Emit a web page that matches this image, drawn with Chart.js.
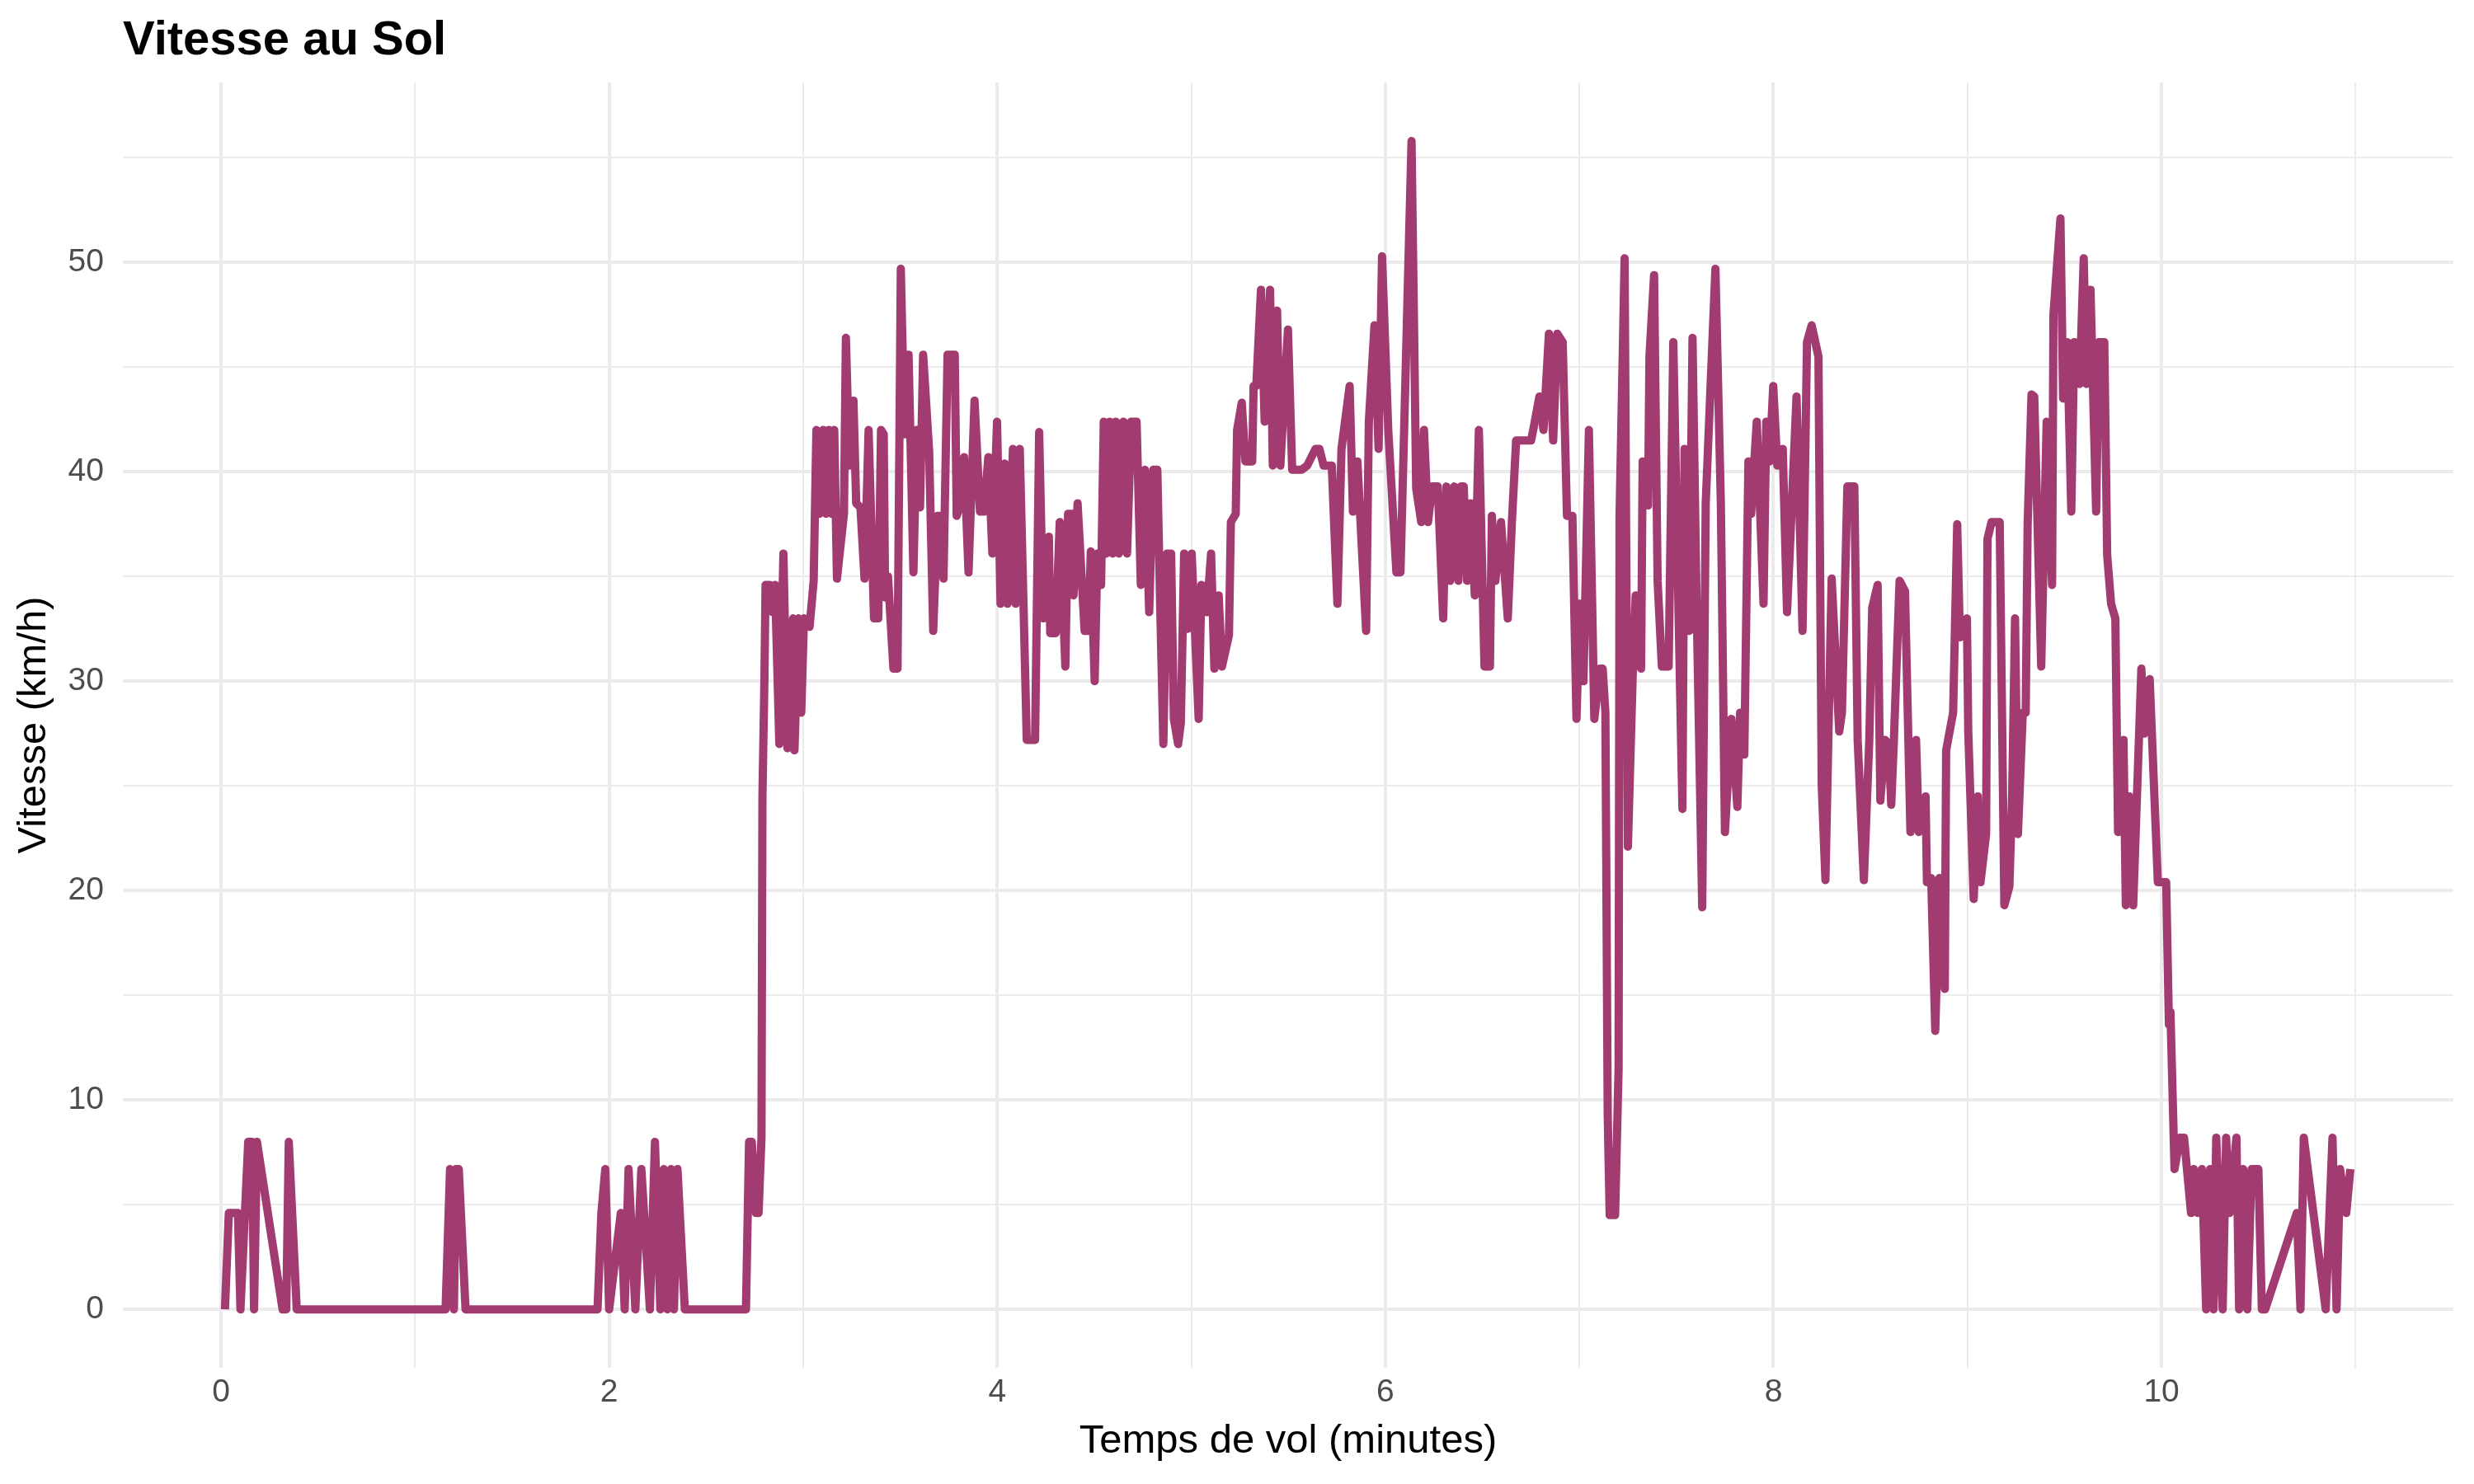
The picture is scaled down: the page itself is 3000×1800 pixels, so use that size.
<!DOCTYPE html>
<html>
<head>
<meta charset="utf-8">
<script src="https://cdn.jsdelivr.net/npm/chart.js@4.4.1/dist/chart.umd.min.js"></script>
<style>
html,body{margin:0;padding:0;background:#fff;}
canvas{display:block;}
</style>
</head>
<body>
<canvas id="c" width="3000" height="1800"></canvas>
<script>
const temps = [
0.02,0.04,0.087,0.10,0.14,0.16,0.17,0.185,0.317,0.336,0.349,0.39,
1.157,1.18,1.20,1.21,1.225,1.26,
1.94,1.96,1.98,2.00,2.06,2.08,2.10,2.135,2.166,2.21,2.236,2.264,2.282,2.30,2.32,2.334,2.352,2.39,2.705,
2.721,2.735,2.756,2.770,2.785,2.79,2.80,2.806,2.827,2.841,2.855,2.877,2.898,2.919,2.948,2.955,2.976,2.990,3.004,3.033,3.054,
3.068,3.082,3.103,3.117,3.132,3.146,3.160,3.174,3.210,3.220,3.238,3.259,3.273,3.295,3.316,3.337,3.365,3.387,
3.401,3.415,3.422,3.437,3.465,3.486,3.503,3.522,3.543,3.568,3.585,3.602,3.618,3.649,3.670,3.692,3.706,3.723,3.744,3.781,3.791,3.812,3.829,3.852,3.883,3.911,3.932,3.954,3.975,3.999,4.017,4.039,4.053,4.081,4.095,4.116,4.152,
4.195,4.216,4.237,4.266,4.273,4.301,4.322,4.351,4.365,4.386,4.393,4.414,4.450,4.471,4.482,4.502,4.516,4.535,4.549,4.562,4.580,4.595,4.611,4.627,4.650,4.669,4.690,4.718,4.740,4.761,4.783,4.804,4.825,4.839,4.856,4.875,4.896,
4.910,4.932,4.946,4.963,4.981,5.002,5.038,5.052,5.080,5.102,5.119,5.141,5.158,5.194,5.204,5.229,5.236,5.260,5.279,5.314,5.321,5.335,5.359,5.378,5.406,5.420,5.442,5.459,5.498,5.520,5.569,5.597,5.619,5.640,
5.660,5.682,5.724,5.753,5.774,5.816,5.833,5.856,5.901,5.915,5.944,5.965,5.983,6.015,6.057,6.078,6.135,6.159,6.185,6.199,6.220,6.241,6.270,6.298,6.315,6.333,6.355,6.376,
6.390,6.404,6.421,6.440,6.461,6.482,6.511,6.539,6.549,6.567,6.596,6.631,6.652,6.674,6.751,6.766,6.794,6.815,6.843,6.865,6.886,6.914,6.936,6.964,6.985,7.002,7.021,7.049,7.077,7.106,
7.120,7.134,7.146,7.156,7.184,7.202,7.207,7.233,7.250,7.276,7.290,7.318,7.326,7.354,7.361,7.385,7.403,7.425,7.460,7.484,7.500,7.531,7.542,7.566,7.583,7.602,7.633,7.651,7.701,7.729,7.750,7.783,7.814,7.828,7.850,
7.871,7.885,7.914,7.949,7.963,7.980,7.999,8.020,8.048,8.070,8.088,8.119,8.150,8.173,8.197,8.232,8.249,8.268,8.300,8.339,8.353,8.381,8.417,8.434,8.466,8.494,8.509,8.537,8.551,8.575,8.594,
8.607,8.620,8.650,8.678,8.706,8.735,8.749,8.784,8.791,8.813,8.834,8.855,8.883,8.890,8.926,8.947,8.961,8.997,9.004,9.032,9.053,9.067,9.096,9.103,9.124,9.166,9.190,9.216,9.230,9.245,9.260,9.285,9.300,9.310,9.330,
9.344,9.380,9.408,9.436,9.443,9.479,9.493,9.514,9.535,9.550,9.578,9.599,9.613,9.634,9.663,9.677,9.705,9.720,9.740,9.762,9.776,9.804,9.816,9.833,9.854,9.896,9.911,9.939,9.981,10.024,10.038,10.046,
10.067,10.095,10.116,10.152,10.166,10.187,10.208,10.230,10.251,10.268,10.282,10.315,10.333,10.350,10.386,10.400,10.421,10.442,10.464,10.499,10.517,10.534,10.697,10.716,10.733,10.846,10.881,10.902,10.920,10.952,10.973
];
const vitesse = [
0,4.6,4.6,0,8.0,8.0,0,8.0,0,0,8.0,0,
0,6.7,0,6.7,6.7,0,
0,4.6,6.7,0,4.6,0,6.7,0,6.7,0,8.0,0,6.7,0,6.7,0,6.7,0,0,
8.0,8.0,4.6,4.6,8.2,24.5,30.0,34.6,34.6,33.3,34.6,27.0,36.1,26.8,33.0,26.7,33.0,28.5,33.0,32.6,34.8,
42.0,38.0,42.0,38.0,42.0,38.0,42.0,34.9,38.0,46.4,40.3,43.4,38.5,38.3,34.9,42.0,33.0,33.0,
42.0,41.8,34.0,35.0,30.6,30.6,49.7,41.8,45.6,35.2,42.0,38.3,45.6,41.0,32.4,37.9,37.9,34.9,45.6,45.6,37.9,38.5,40.7,35.2,43.4,38.1,38.1,40.7,36.1,42.4,33.7,40.4,33.7,41.1,33.7,41.1,27.2,
27.2,41.9,33.0,36.9,32.3,32.3,37.6,30.7,38.0,38.0,34.1,38.5,32.4,32.4,36.2,30.0,36.1,34.6,42.4,36.1,42.4,36.1,42.4,36.1,42.4,36.1,42.4,42.4,34.6,40.1,33.3,40.1,40.1,33.9,27.0,36.1,36.1,
28.2,27.0,28.0,36.1,32.5,36.1,28.2,34.6,33.3,36.1,30.6,34.1,30.7,32.2,37.6,38.0,42.0,43.3,40.5,40.5,44.1,44.1,48.7,42.4,48.7,40.3,47.7,40.3,46.8,40.1,40.1,40.3,40.7,41.1,
41.1,40.3,40.3,33.7,41.1,44.1,38.1,40.5,32.4,42.4,47.0,41.1,50.3,42.0,35.2,35.2,55.8,39.2,37.6,42.0,37.6,39.3,39.3,33.0,39.3,34.8,39.3,34.8,
39.3,39.3,34.8,38.5,34.1,42.0,30.7,30.7,37.9,34.8,37.6,33.0,37.6,41.5,41.5,42.2,43.6,42.0,46.6,41.5,46.6,46.2,37.9,37.9,28.2,33.7,30.0,42.0,28.2,30.6,
30.6,28.5,9.3,4.5,4.5,11.5,37.9,50.2,22.1,30.7,34.1,30.6,40.5,38.4,45.5,49.4,34.8,30.7,30.7,46.2,38.5,23.9,41.1,32.4,46.4,34.8,19.2,38.5,49.7,38.5,22.8,28.2,24.0,28.5,26.5,
40.5,38.0,42.4,33.7,42.4,40.5,44.1,40.3,41.1,33.3,37.0,43.6,32.4,46.2,47.0,45.5,25.0,20.5,34.9,27.6,28.5,39.3,39.3,27.2,20.5,27.2,33.5,34.6,24.3,27.2,27.0,
24.1,27.0,34.8,34.3,22.8,27.2,22.8,24.5,20.4,20.6,13.3,20.6,15.3,26.7,28.5,37.5,32.1,33.0,27.6,19.6,24.5,20.4,22.7,36.8,37.6,37.6,19.3,20.2,24.5,33.0,22.7,28.5,28.5,37.5,43.7,
43.6,30.7,42.4,34.6,47.5,52.1,43.5,46.2,38.1,46.2,44.2,50.2,44.2,48.7,38.1,46.2,46.2,36.0,33.7,33.0,22.8,27.2,19.3,24.5,19.3,30.6,27.5,30.1,20.4,20.4,13.6,14.2,
6.7,8.2,8.2,4.6,6.7,4.6,6.7,0,6.7,0,8.2,0,8.2,4.6,8.2,0,6.7,0,6.7,6.7,0,0,4.6,0,8.2,0,8.2,0,6.7,4.6,6.7
];
const xTickValues = [0,1,2,3,4,5,6,7,8,9,10,11];
const xTickLabels = ['0','','2','','4','','6','','8','','10',''];
const yTickValues = [0,5,10,15,20,25,30,35,40,45,50,55];
const yTickLabels = ['0','','10','','20','','30','','40','','50',''];

Chart.defaults.font.family = "'Liberation Sans', Arial, Helvetica, sans-serif";

const titlePlugin = {
  id: 'ggtitle',
  afterDraw(chart) {
    const ctx = chart.ctx;
    ctx.save();
    ctx.font = "bold 58px 'Liberation Sans', Arial, sans-serif";
    ctx.fillStyle = '#000';
    ctx.textAlign = 'left';
    ctx.textBaseline = 'alphabetic';
    ctx.fillText('Vitesse au Sol', chart.chartArea.left, 66);
    ctx.restore();
  }
};

const pts = temps.map((t, i) => ({x: t, y: vitesse[i]}));

new Chart(document.getElementById('c'), {
  type: 'line',
  data: {
    datasets: [{
      data: pts,
      borderColor: '#A23B70',
      borderWidth: 10,
      pointRadius: 0,
      tension: 0,
      fill: false,
      borderJoinStyle: 'round',
      borderCapStyle: 'butt'
    }]
  },
  options: {
    responsive: false,
    animation: false,
    devicePixelRatio: 1,
    layout: { padding: { top: 100, right: 25, left: 0, bottom: 0 } },
    plugins: { legend: { display: false }, tooltip: { enabled: false }, title: { display: false } },
    scales: {
      x: {
        type: 'linear',
        min: -0.506, max: 11.504,
        afterBuildTicks: s => { s.ticks = xTickValues.map(v => ({value: v})); },
        afterFit: s => { s.height = 141; },
        border: { display: false },
        grid: {
          drawTicks: false,
          color: '#EBEBEB',
          lineWidth: c => (c.tick && xTickLabels[xTickValues.indexOf(c.tick.value)] !== '') ? 4 : 2
        },
        ticks: {
          autoSkip: false, maxRotation: 0, padding: 7,
          color: '#4D4D4D', font: { size: 39 },
          callback: v => { const i = xTickValues.indexOf(v); return i >= 0 ? xTickLabels[i] : ''; }
        },
        title: {
          display: true, text: 'Temps de vol (minutes)', color: '#000',
          font: { size: 49, lineHeight: 1.2 }, padding: { top: 0, bottom: 22 }
        }
      },
      y: {
        type: 'linear',
        min: -2.79, max: 58.6,
        afterBuildTicks: s => { s.ticks = yTickValues.map(v => ({value: v})); },
        afterFit: s => { s.width = 149; },
        border: { display: false },
        grid: {
          drawTicks: false,
          color: '#EBEBEB',
          lineWidth: c => (c.tick && yTickLabels[yTickValues.indexOf(c.tick.value)] !== '') ? 4 : 2
        },
        ticks: {
          autoSkip: false, padding: 23,
          color: '#4D4D4D', font: { size: 39 },
          callback: v => { const i = yTickValues.indexOf(v); return i >= 0 ? yTickLabels[i] : ''; }
        },
        title: {
          display: true, text: 'Vitesse (km/h)', color: '#000',
          font: { size: 49, lineHeight: 1.2 }, padding: { top: 12, bottom: 0 }
        }
      }
    }
  },
  plugins: [titlePlugin]
});
</script>
</body>
</html>
